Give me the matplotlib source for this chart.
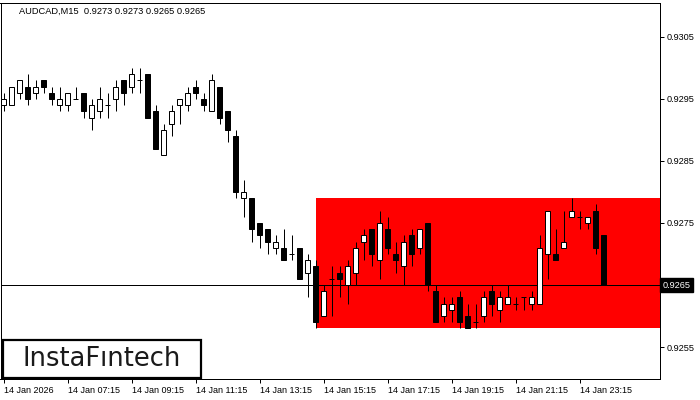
import matplotlib
matplotlib.use("Agg")
import matplotlib.pyplot as plt
from matplotlib.patches import Rectangle

# AUDCAD M15, 14 Jan 2026 05:15 -> 15 Jan 00:00 (76 candles)
opens = [0.9294, 0.9294, 0.9296, 0.9297, 0.9296, 0.9298, 0.9296, 0.9294, 0.9294, 0.9295,
         0.9296, 0.9292, 0.9293, 0.9294, 0.9295, 0.9298, 0.9297, 0.9298, 0.9299, 0.9293,
         0.9286, 0.9291, 0.9294, 0.9294, 0.9297, 0.9295, 0.9293, 0.9297, 0.9293, 0.9289,
         0.9279, 0.9279, 0.9275, 0.9274, 0.9271, 0.9271, 0.9270, 0.9271, 0.9267, 0.9268,
         0.9260, 0.9266, 0.9267, 0.9265, 0.9267, 0.9272, 0.9274, 0.9269, 0.9274, 0.9270,
         0.9268, 0.9273, 0.9271, 0.9275, 0.9264, 0.9260, 0.9261, 0.9263, 0.9260, 0.9259,
         0.9260, 0.9264, 0.9261, 0.9262, 0.9262, 0.9263, 0.9262, 0.9262, 0.9270, 0.9270,
         0.9271, 0.9276, 0.9276, 0.9275, 0.9277, 0.9273]
highs = [0.9296, 0.9297, 0.9298, 0.9299, 0.9298, 0.9298, 0.9297, 0.9297, 0.9296, 0.9297,
         0.9296, 0.9295, 0.9297, 0.9296, 0.9298, 0.9298, 0.9300, 0.9300, 0.9299, 0.9294,
         0.9291, 0.9294, 0.9295, 0.9297, 0.9298, 0.9296, 0.9299, 0.9297, 0.9293, 0.9290,
         0.9282, 0.9279, 0.9275, 0.9274, 0.9273, 0.9274, 0.9273, 0.9271, 0.9270, 0.9269,
         0.9265, 0.9268, 0.9268, 0.9269, 0.9272, 0.9274, 0.9274, 0.9277, 0.9276, 0.9272,
         0.9273, 0.9274, 0.9274, 0.9275, 0.9265, 0.9263, 0.9263, 0.9264, 0.9262, 0.9262,
         0.9264, 0.9265, 0.9264, 0.9265, 0.9263, 0.9263, 0.9264, 0.9273, 0.9271, 0.9274,
         0.9277, 0.9279, 0.9277, 0.9276, 0.9278, 0.9273]
lows = [0.9293, 0.9294, 0.9295, 0.9294, 0.9295, 0.9296, 0.9294, 0.9293, 0.9293, 0.9295,
        0.9292, 0.9290, 0.9292, 0.9292, 0.9293, 0.9294, 0.9296, 0.9296, 0.9292, 0.9287,
        0.9286, 0.9289, 0.9291, 0.9293, 0.9295, 0.9293, 0.9293, 0.9291, 0.9288, 0.9279,
        0.9276, 0.9272, 0.9271, 0.9270, 0.9270, 0.9269, 0.9269, 0.9266, 0.9263, 0.9258,
        0.9260, 0.9260, 0.9263, 0.9262, 0.9265, 0.9269, 0.9268, 0.9266, 0.9270, 0.9267,
        0.9265, 0.9268, 0.9270, 0.9264, 0.9259, 0.9259, 0.9259, 0.9258, 0.9258, 0.9258,
        0.9259, 0.9260, 0.9259, 0.9262, 0.9261, 0.9261, 0.9261, 0.9262, 0.9266, 0.9269,
        0.9271, 0.9276, 0.9274, 0.9274, 0.9270, 0.9265]
closes = [0.9295, 0.9297, 0.9298, 0.9295, 0.9297, 0.9297, 0.9295, 0.9295, 0.9296, 0.9295,
          0.9293, 0.9294, 0.9295, 0.9294, 0.9297, 0.9296, 0.9299, 0.9298, 0.9292, 0.9287,
          0.9290, 0.9293, 0.9295, 0.9296, 0.9296, 0.9294, 0.9298, 0.9292, 0.9290, 0.9280,
          0.9280, 0.9274, 0.9273, 0.9272, 0.9272, 0.9269, 0.9270, 0.9266, 0.9269, 0.9259,
          0.9264, 0.9266, 0.9266, 0.9268, 0.9271, 0.9273, 0.9270, 0.9275, 0.9271, 0.9269,
          0.9272, 0.9270, 0.9274, 0.9265, 0.9259, 0.9262, 0.9262, 0.9259, 0.9258, 0.9259,
          0.9263, 0.9262, 0.9263, 0.9263, 0.9262, 0.9263, 0.9263, 0.9271, 0.9277, 0.9269,
          0.9272, 0.9277, 0.9276, 0.9276, 0.9271, 0.9265]

tick_labels = ["14 Jan 2026", "14 Jan 07:15", "14 Jan 09:15", "14 Jan 11:15", "14 Jan 13:15",
               "14 Jan 15:15", "14 Jan 17:15", "14 Jan 19:15", "14 Jan 21:15", "14 Jan 23:15"]
price_ticks = [0.9255, 0.9265, 0.9275, 0.9285, 0.9295, 0.9305]

# pattern rectangle
rect_start = 39
rect_top = 0.9279
rect_bottom = 0.9258
last_price = 0.9265
title = "AUDCAD,M15  0.9273 0.9273 0.9265 0.9265"

font = "Liberation Sans"
px = 0.72  # one pixel in points at 100 dpi
ymin, ymax = 0.924984, 0.931048

fig = plt.figure(figsize=(7, 4), dpi=100)
ax = fig.add_axes([0.5 / 700, 21 / 400, 659.5 / 700, 376 / 400])
ax.set_xlim(-0.375, 82.06)
ax.set_ylim(ymin, ymax)

# red pattern box
ax.add_patch(Rectangle((rect_start, rect_bottom), 100, rect_top - rect_bottom,
                       facecolor="#ff0000", edgecolor="none", zorder=1))

# current price line
ax.axhline(last_price, color="black", lw=px, zorder=2)

w = 0.6
for i in range(len(opens)):
    o, h, l, c = opens[i], highs[i], lows[i], closes[i]
    ax.vlines(i, l, h, color="black", lw=px, zorder=3)
    if c > o:
        ax.bar(i, c - o, bottom=o, width=w, color="white", edgecolor="black",
               linewidth=px, zorder=4)
    elif c < o:
        ax.bar(i, o - c, bottom=c, width=w, color="black", edgecolor="black",
               linewidth=px, zorder=4)
    else:
        ax.hlines(o, i - w / 2, i + w / 2, color="black", lw=px, zorder=4)

# axes styling
for s in ax.spines.values():
    s.set_linewidth(px)
    s.set_color("black")
ax.yaxis.tick_right()
ax.set_yticks(price_ticks)
# the current price tag sits over the 0.9265 label
ax.set_yticklabels(["" if p == last_price else f"{p:.4f}" for p in price_ticks],
                   fontsize=6.6, family=font)
ax.tick_params(axis="y", direction="out", length=3, width=px, pad=2)
ax.set_xticks(range(0, 80, 8))
ax.set_xticklabels(tick_labels, fontsize=6.5, family=font, ha="left")
ax.tick_params(axis="x", direction="out", length=3, width=px, pad=2)

# price tag on the right axis
ax.text(1.004, (last_price - ymin) / (ymax - ymin), f"{last_price:.4f}",
        transform=ax.transAxes, ha="left", va="center", fontsize=6.6, family=font,
        color="white", bbox=dict(boxstyle="square,pad=0.25", fc="black", ec="black"))

fig.text(19 / 700, 1 - 11 / 400, title, fontsize=6.7, family=font, va="center", ha="left")

# logo
fig.patches.append(Rectangle((3 / 700, 22 / 400), 198 / 700, 38 / 400, transform=fig.transFigure,
                             facecolor="white", edgecolor="black", linewidth=1.6, zorder=5))
fig.text(102 / 700, 41 / 400, "InstaFıntech", fontsize=18.5, family="DejaVu Sans",
         color="#1a1a1a", ha="center", va="center", zorder=6)

fig.savefig("out.png", dpi=100)
